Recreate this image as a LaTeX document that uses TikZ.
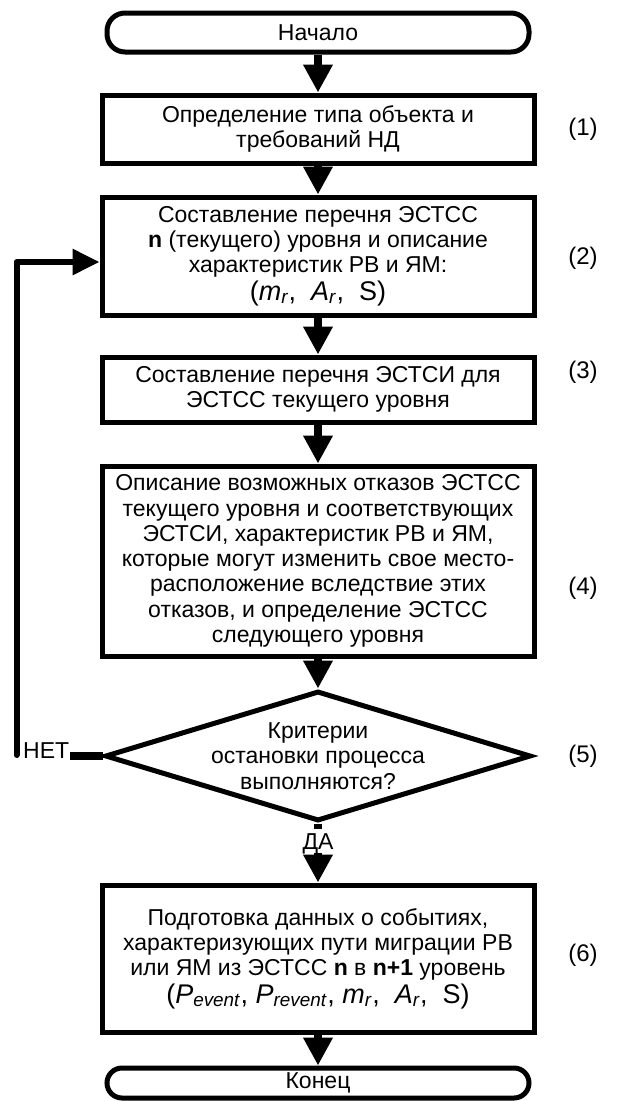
\documentclass[tikz,border=0pt]{standalone}
\usepackage{fontspec}
\setmainfont{Liberation Sans}
\usetikzlibrary{shapes.geometric,arrows.meta}
\begin{document}
\begin{tikzpicture}[x=1pt,y=-1pt,
  txt/.style={font=\fontsize{23}{25.3}\selectfont, align=center, inner sep=0pt},
  boxnode/.style={txt, draw, line width=5pt, minimum width=432pt},
  term/.style={txt, draw, line width=5pt, rounded corners=18pt, minimum width=422pt},
  arr/.style={line width=8pt, -{Triangle[length=28pt,width=28pt]}},
  stub/.style={line width=8pt},
  looparr/.style={line width=6pt, line join=round, line cap=round, -{Triangle[length=27pt,width=25pt]}},
  numlab/.style={font=\fontsize{24}{26}\selectfont, inner sep=0pt}]
\fill[white] (0,0) rectangle (626,1101);
\useasboundingbox (0,0) rectangle (626,1101);
\newcommand{\bigtxt}{\fontsize{27}{30}\selectfont}
\node[term, minimum height=39pt] (start) at (318,32.5) {Начало};
\node[boxnode, minimum height=68pt] (b1) at (318,129) {Определение типа объекта и\\требований НД};
\node[boxnode, minimum height=118pt] (b2) at (318,256) {Составление перечня ЭСТСС \\ \textbf{n} (текущего) уровня и описание\\характеристик РВ и ЯМ:\\[2pt]{\bigtxt(\textit{m}\textsubscript{\textit{r}},\ \ \textit{A}\textsubscript{\textit{r}},\ \ S)}};
\node[boxnode, minimum height=65pt] (b3) at (318,389.5) {Составление перечня ЭСТСИ для\\ЭСТСС текущего уровня};
\node[boxnode, minimum height=190pt] (b4) at (318,561) {Описание возможных отказов ЭСТСС\\текущего уровня и соответствующих\\ЭСТСИ, характеристик РВ и ЯМ,\\которые могут изменить свое место-\\расположение вследствие этих\\отказов, и определение ЭСТСС\\следующего уровня};
\node[draw, line width=5pt, shape=diamond, inner sep=0pt, minimum width=426pt, minimum height=130pt] (dia) at (318,756) {};
\node[txt] (diatext) at (dia.center) {Критерии\\остановки процесса\\выполняются?};
\node[boxnode, minimum height=147pt] (b6) at (318,958.5) {Подготовка данных о событиях,\\характеризующих пути миграции РВ\\или ЯМ из ЭСТСС \textbf{n} в \textbf{n+1} уровень\\[2pt]{\bigtxt(\textit{P}\textsubscript{\textit{event}}, \textit{P}\textsubscript{\textit{revent}}, \textit{m}\textsubscript{\textit{r}},\ \ \textit{A}\textsubscript{\textit{r}},\ \ S)}};
\node[term, minimum height=30pt, rounded corners=15pt] (end) at (318,1083) {Конец};
\node[numlab] (n1) at (583,129) {(1)};
\node[numlab] (n2) at (583,258) {(2)};
\node[numlab] (n3) at (583,372) {(3)};
\node[numlab] (n4) at (583,588) {(4)};
\node[numlab] (n5) at (583,756) {(5)};
\node[numlab] (n6) at (583,955) {(6)};
\draw[arr] (start) -- (b1);
\draw[arr] (b1) -- (b2);
\draw[arr] (b2) -- (b3);
\draw[arr] (b3) -- (b4);
\draw[arr] (b4) -- (dia);
\coordinate (dastub) at (318,829);
\node[font=\fontsize{23}{25.3}\selectfont, inner sep=0pt, anchor=base] (da) at (318,849) {ДА};
\coordinate (dastart) at (318,853);
\draw[stub] (dia.south) -- (dastub);
\draw[arr] (dastart) -- (b6);
\draw[arr] (b6) -- (end);
\coordinate (netstub) at (70,756);
\node[font=\fontsize{23}{25.3}\selectfont, inner sep=0pt, anchor=base west] (net) at (23,758) {НЕТ};
\coordinate (loopstart) at (16.5,755);
\coordinate (b2in) at ([yshift=-6pt]b2.west);
\draw[stub] (dia.west) -- (netstub);
\draw[looparr] (loopstart) |- (b2in);
\end{tikzpicture}
\end{document}
